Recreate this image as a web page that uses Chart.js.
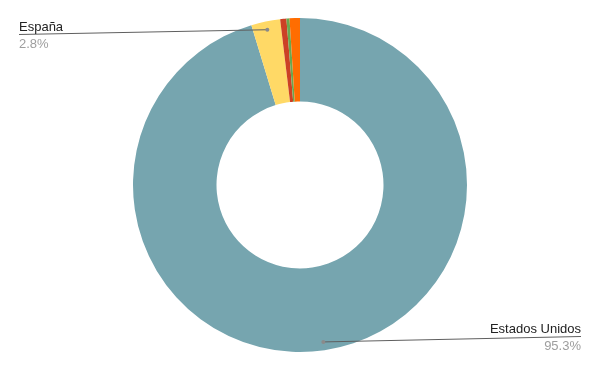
<!DOCTYPE html>
<html>
<head>
<meta charset="utf-8">
<script src="https://cdn.jsdelivr.net/npm/chart.js@4/dist/chart.umd.min.js"></script>
<style>
  html, body { margin: 0; padding: 0; background: #fff; }
  #paisesChart { display: block; }
</style>
</head>
<body>
<canvas id="paisesChart" width="600" height="371"></canvas>
<script>
// Datos
const paises = ['Estados Unidos', 'España', 'México', 'Argentina', 'Otros'];
const porcentajes = [95.3, 2.8, 0.6, 0.3, 1.0];
const colores = ['#76a5af', '#ffd966', '#cc4125', '#6aa84f', '#ff6d01'];
const etiquetados = [0, 1]; // solo estas porciones llevan rótulo

// Rótulos con línea guía (estilo hoja de cálculo)
const calloutPlugin = {
    id: 'callouts',
    afterDraw(chart) {
        const ctx = chart.ctx;
        const meta = chart.getDatasetMeta(0);
        const sitios = {
            0: { x: 581, y: 336, align: 'right' },
            1: { x: 19, y: 34, align: 'left' }
        };
        ctx.save();
        etiquetados.forEach(i => {
            const arc = meta.data[i];
            const mid = (arc.startAngle + arc.endAngle) / 2;
            const r = arc.outerRadius * 0.95;
            const px = arc.x + Math.cos(mid) * r;
            const py = arc.y + Math.sin(mid) * r;
            const s = sitios[i];

            ctx.font = '13px "Liberation Sans", Arial, sans-serif';

            // línea
            ctx.strokeStyle = '#5f5f5f';
            ctx.lineWidth = 1;
            ctx.beginPath();
            ctx.moveTo(s.x, s.y + 0.5);
            ctx.lineTo(px, py);
            ctx.stroke();

            // punto
            ctx.fillStyle = '#8a8a8a';
            ctx.beginPath();
            ctx.arc(px, py, 2, 0, Math.PI * 2);
            ctx.fill();

            // texto
            ctx.textAlign = s.align;
            ctx.textBaseline = 'alphabetic';
            ctx.fillStyle = '#222222';
            ctx.fillText(paises[i], s.x, s.y - 3.5);
            ctx.fillStyle = '#9e9e9e';
            ctx.fillText(porcentajes[i].toFixed(1) + '%', s.x, s.y + 14);
        });
        ctx.restore();
    }
};

const ctx = document.getElementById('paisesChart').getContext('2d');
new Chart(ctx, {
    type: 'doughnut',
    data: {
        labels: paises,
        datasets: [{
            data: porcentajes,
            backgroundColor: colores,
            borderWidth: 0
        }]
    },
    options: {
        responsive: false,
        animation: false,
        cutout: '50%',
        layout: { padding: { top: 18, bottom: 19 } },
        plugins: {
            legend: { display: false },
            tooltip: { enabled: false }
        }
    },
    plugins: [calloutPlugin]
});
</script>
</body>
</html>
